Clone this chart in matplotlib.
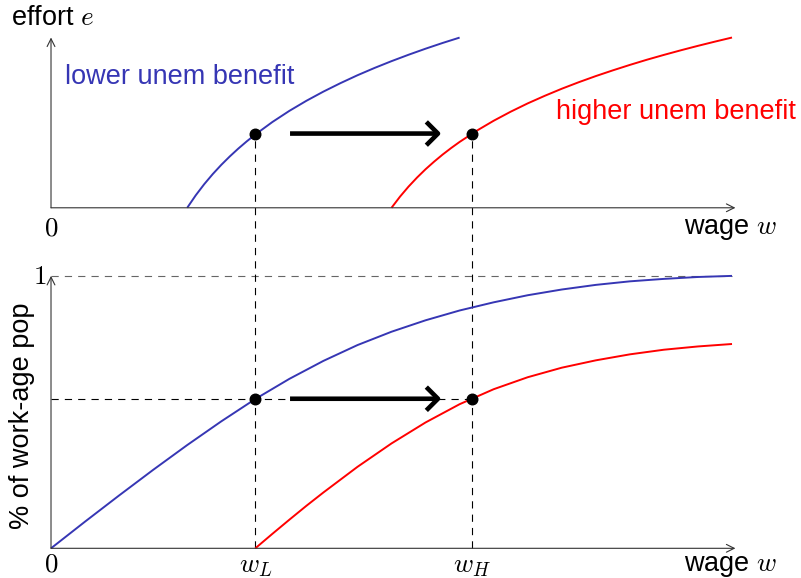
import matplotlib
matplotlib.use("Agg")
import matplotlib.pyplot as plt

# ---------------- data ----------------
# top panel: effort e as function of wage w
wage_top_low = [2.0, 2.125, 2.25, 2.375, 2.5, 2.625, 2.75, 2.875, 3.0, 3.25,
                3.5, 3.75, 4.0, 4.25, 4.5, 4.75, 5.0, 5.25, 5.5, 5.75, 6.0]
effort_low = [0.0, 0.183, 0.347, 0.495, 0.630, 0.754, 0.869, 0.976, 1.076,
              1.259, 1.423, 1.571, 1.706, 1.830, 1.946, 2.053, 2.153, 2.247,
              2.336, 2.420, 2.499]
wage_top_high = [5.0, 5.125, 5.25, 5.375, 5.5, 5.625, 5.75, 5.875, 6.0, 6.25,
                 6.5, 6.75, 7.0, 7.25, 7.5, 7.75, 8.0, 8.25, 8.5, 8.75, 9.0,
                 9.25, 9.5, 9.75, 10.0]
effort_high = [0.0, 0.164, 0.311, 0.444, 0.566, 0.677, 0.781, 0.877, 0.967,
               1.131, 1.278, 1.411, 1.533, 1.644, 1.748, 1.844, 1.934, 2.018,
               2.098, 2.174, 2.245, 2.313, 2.378, 2.440, 2.500]

# bottom panel: share of working-age population
wage_bot_low = [0.0, 0.5, 1.0, 1.5, 2.0, 2.5, 3.0, 3.5, 4.0, 4.5, 5.0, 5.5,
                6.0, 6.5, 7.0, 7.5, 8.0, 8.5, 9.0, 9.5, 10.0]
share_low = [0.0, 0.098, 0.194, 0.288, 0.379, 0.466, 0.548, 0.622, 0.688,
             0.746, 0.795, 0.837, 0.873, 0.903, 0.929, 0.950, 0.967, 0.980,
             0.989, 0.996, 1.000]
wage_bot_high = [3.0, 3.25, 3.5, 3.75, 4.0, 4.5, 5.0, 5.5, 6.0, 6.5, 7.0, 7.5,
                 8.0, 8.5, 9.0, 9.5, 10.0]
share_high = [0.0, 0.053, 0.105, 0.156, 0.205, 0.299, 0.385, 0.462, 0.529,
              0.584, 0.628, 0.663, 0.690, 0.712, 0.729, 0.741, 0.750]

w_L, w_H = 3.0, 6.18
e_star = 1.09
p_star = 0.549
w_max = 10.0
axis_end = 10.05
effort_axis_top = 2.5

tick_labels = {"zero": "$0$", "one": "$1$", "wL": "$w_L$", "wH": "$w_H$"}
label_effort = "effort $e$"
label_wage = "wage $w$"
label_share = "% of work-age pop"
label_low = "lower unem benefit"
label_high = "higher unem benefit"

# ---------------- layout helpers ----------------
TOP_OFFSET = 5.0      # top panel origin in drawing units
BOT_SCALE = 4.0       # bottom panel: share 1 -> 4 drawing units


def top(vals):
    return [TOP_OFFSET + v for v in vals]


def bot(vals):
    return [BOT_SCALE * v for v in vals]


BLUE = "#3636b4"
RED = "#ff0000"
AXC = "#333333"
FS = 19.5

plt.rcParams["font.family"] = ["Liberation Sans", "DejaVu Sans"]
plt.rcParams["mathtext.fontset"] = "cm"

fig = plt.figure(figsize=(8.01, 5.78), dpi=100)
ax = fig.add_axes([0, 0, 1, 1])
ax.set_xlim(-0.749, 11.013)
ax.set_ylim(-0.436, 8.051)
ax.axis("off")

axis_arrow = dict(arrowstyle="->,head_length=0.28,head_width=0.14", lw=0.8,
                  color=AXC, shrinkA=0, shrinkB=0, mutation_scale=20)
big_arrow = dict(arrowstyle="->,head_length=0.42,head_width=0.42", lw=3.3,
                 color="black", shrinkA=0, shrinkB=0, mutation_scale=20,
                 capstyle="butt", joinstyle="round")
dash = (0, (6.5, 5.5))

# ---- axes of top panel
ax.annotate("", xy=(axis_end, top([0])[0]), xytext=(0, top([0])[0]), arrowprops=axis_arrow)
ax.annotate("", xy=(0, top([effort_axis_top])[0]), xytext=(0, top([0])[0]), arrowprops=axis_arrow)
# ---- axes of bottom panel
ax.annotate("", xy=(axis_end, 0), xytext=(0, 0), arrowprops=axis_arrow)
ax.annotate("", xy=(0, bot([1.0])[0]), xytext=(0, 0), arrowprops=axis_arrow)

# ---- dashed guides
ax.plot([0, w_max], bot([1.0, 1.0]), ls=dash, color="#666666", lw=0.8)
ax.plot([0, w_H], bot([p_star, p_star]), ls=dash, color="black", lw=0.8)
ax.plot([w_L, w_L], [bot([0])[0], top([e_star])[0]], ls=dash, color="black", lw=0.8)
ax.plot([w_H, w_H], [bot([0])[0], top([e_star])[0]], ls=dash, color="black", lw=0.8)

# ---- curves
ax.plot(wage_top_low, top(effort_low), color=BLUE, lw=1.4, solid_capstyle="butt")
ax.plot(wage_top_high, top(effort_high), color=RED, lw=1.4, solid_capstyle="butt")
ax.plot(wage_bot_low, bot(share_low), color=BLUE, lw=1.4, solid_capstyle="butt")
ax.plot(wage_bot_high, bot(share_high), color=RED, lw=1.4, solid_capstyle="butt")

# ---- thick arrows
ax.annotate("", xy=(5.73, top([e_star])[0]), xytext=(3.51, top([e_star])[0]), arrowprops=big_arrow)
ax.annotate("", xy=(5.73, bot([p_star])[0]), xytext=(3.51, bot([p_star])[0]), arrowprops=big_arrow)

# ---- dots
ax.plot([w_L, w_H], top([e_star, e_star]), "o", color="black", ms=7.6, zorder=5)
ax.plot([w_L, w_H], bot([p_star, p_star]), "o", color="black", ms=7.6, zorder=5)

# ---- texts
ax.text(0.02, 7.79, label_effort, fontsize=FS, ha="center", va="center")
ax.text(0.0, 4.69, tick_labels["zero"], fontsize=FS, ha="center", va="center")
ax.text(9.98, 4.69, label_wage, fontsize=FS, ha="center", va="center")
ax.text(-0.16, 3.99, tick_labels["one"], fontsize=FS, ha="center", va="center")
ax.text(-0.43, 1.94, label_share, fontsize=FS, ha="center", va="center", rotation=90)
ax.text(0.0, -0.24, tick_labels["zero"], fontsize=FS, ha="center", va="center")
ax.text(w_L, -0.26, tick_labels["wL"], fontsize=FS, ha="center", va="center")
ax.text(w_H, -0.26, tick_labels["wH"], fontsize=FS, ha="center", va="center")
ax.text(9.98, -0.26, label_wage, fontsize=FS, ha="center", va="center")
ax.text(1.894, 6.92, label_low, fontsize=FS, ha="center", va="center", color=BLUE)
ax.text(9.18, 6.41, label_high, fontsize=FS, ha="center", va="center", color=RED)

fig.savefig("out.png", dpi=100)
